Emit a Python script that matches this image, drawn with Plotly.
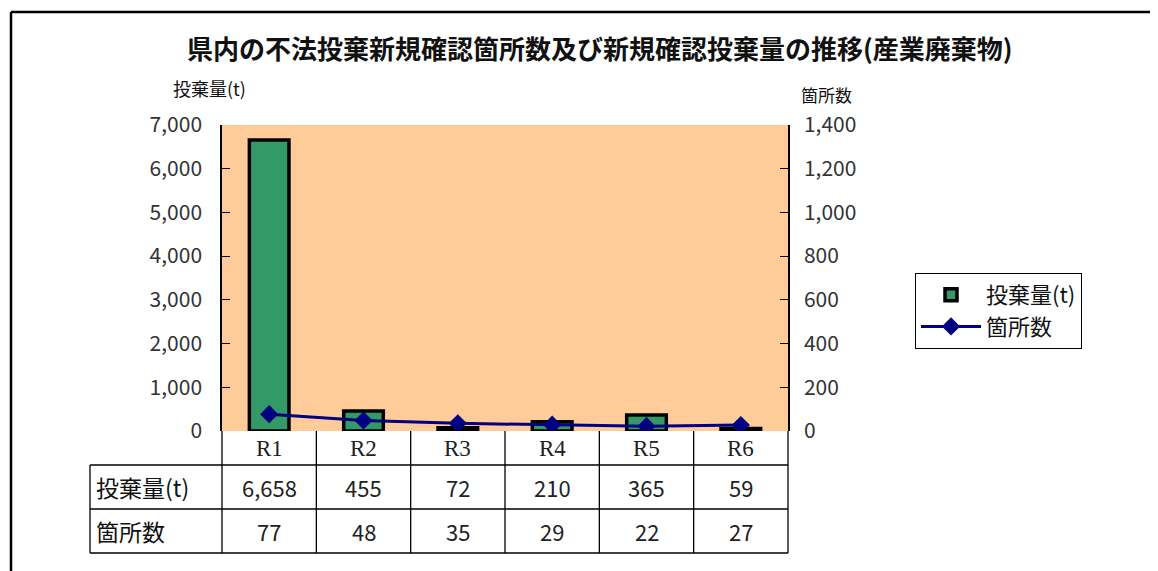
import plotly.graph_objects as go

categories = ["R1", "R2", "R3", "R4", "R5", "R6"]
amount_t = [6658, 455, 72, 210, 365, 59]
sites = [77, 48, 35, 29, 22, 27]
left_ticks = [0, 1000, 2000, 3000, 4000, 5000, 6000, 7000]
right_ticks = [0, 200, 400, 600, 800, 1000, 1200, 1400]

# page has an 8px body margin; compensate so picture coordinates match
OFF = 8
W, H = 1158 - OFF, 571 - OFF
PL, PR, PT, PB = 222, 788, 125, 431
pw, ph = PR - PL, PB - PT

def px(x):
    return (x - PL) / pw

def py(y):
    return (PB - y) / ph

JP = "Noto Sans CJK JP, sans-serif"
SERIF = "Liberation Serif, DejaVu Serif, serif"

fig = go.Figure()
fig.add_trace(go.Bar(
    x=categories, y=amount_t, name="投棄量(t)",
    marker=dict(color="#339966", line=dict(color="#000000", width=3.5)),
    width=0.42, yaxis="y",
))
fig.add_trace(go.Scatter(
    x=categories, y=sites, name="箇所数", yaxis="y2",
    mode="lines+markers",
    line=dict(color="#000080", width=3),
    marker=dict(symbol="diamond", size=14, color="#000080"),
))

shapes = []
def line(x0, y0, x1, y1, w=1.3, c="#000000"):
    shapes.append(dict(type="line", xref="paper", yref="paper",
                       x0=px(x0), y0=py(y0), x1=px(x1), y1=py(y1),
                       line=dict(color=c, width=w)))

# outer chart frame
line(11, 12, 1170, 12, 2.5)
line(11, 12, 11, 580, 2.5)

# data table grid
rows = [465, 509, 553]
for r in rows:
    line(90, r, PR, r)
line(90, 465, 90, 553)
n = len(categories)
for k in range(n + 1):
    xk = PL + pw * k / n
    line(xk, PB, xk, 553)

annotations = []
for i, c in enumerate(categories):
    annotations.append(dict(x=c, y=py(448), xref="x", yref="paper", text=c,
                            xanchor="center", yanchor="middle",
                            showarrow=False, font=dict(family=SERIF, size=23, color="#222")))
    annotations.append(dict(x=c, y=py(487), xref="x", yref="paper", text=f"{amount_t[i]:,}",
                            xanchor="center", yanchor="middle",
                            showarrow=False, font=dict(family=JP, size=22, color="#222")))
    annotations.append(dict(x=c, y=py(531), xref="x", yref="paper", text=f"{sites[i]:,}",
                            xanchor="center", yanchor="middle",
                            showarrow=False, font=dict(family=JP, size=22, color="#222")))
annotations.append(dict(x=px(94), y=py(487), xref="paper", yref="paper", text="投棄量(t)",
                        xanchor="left", yanchor="middle", showarrow=False,
                        font=dict(family=JP, size=23, color="#111")))
annotations.append(dict(x=px(94), y=py(531), xref="paper", yref="paper", text="箇所数",
                        xanchor="left", yanchor="middle", showarrow=False,
                        font=dict(family=JP, size=23, color="#111")))
# axis titles
annotations.append(dict(x=px(209), y=py(88), xref="paper", yref="paper", text="投棄量(t)",
                        xanchor="center", yanchor="middle", showarrow=False,
                        font=dict(family=JP, size=18, color="#111")))
annotations.append(dict(x=px(826), y=py(95), xref="paper", yref="paper", text="箇所数",
                        xanchor="center", yanchor="middle", showarrow=False,
                        font=dict(family=JP, size=17, color="#111")))
# title
annotations.append(dict(x=px(600), y=py(47), xref="paper", yref="paper",
                        text="<b>県内の不法投棄新規確認箇所数及び新規確認投棄量の推移(産業廃棄物)</b>",
                        xanchor="center", yanchor="middle", showarrow=False,
                        font=dict(family=JP, size=26, color="#111")))

fig.update_layout(
    width=W, height=H,
    margin=dict(l=PL - OFF, r=W - (PR - OFF), t=PT - OFF, b=H - (PB - OFF), pad=0),
    paper_bgcolor="#ffffff",
    plot_bgcolor="#FFCC99",
    showlegend=True,
    legend=dict(x=px(915), y=py(273), xanchor="left", yanchor="top",
                bordercolor="#000000", borderwidth=1, bgcolor="#ffffff",
                font=dict(family=JP, size=22, color="#111"),
                tracegroupgap=2, itemwidth=60),
    xaxis=dict(showticklabels=False, showgrid=False, zeroline=False,
               showline=False, ticks="", range=[-0.5, 5.5]),
    yaxis=dict(range=[0, 7000], tickvals=left_ticks, tickformat=",",
               showgrid=False, zeroline=False, showline=True, linecolor="#000000",
               linewidth=1.5, ticks="inside", ticklen=8, tickcolor="#000000",
               ticklabelstandoff=14,
               tickfont=dict(family=JP, size=21, color="#333")),
    yaxis2=dict(range=[0, 1400], tickvals=right_ticks, tickformat=",",
                overlaying="y", side="right",
                showgrid=False, zeroline=False, showline=True, linecolor="#000000",
                linewidth=1.5, ticks="inside", ticklen=8, tickcolor="#000000",
                ticklabelstandoff=10,
                tickfont=dict(family=JP, size=21, color="#333")),
    shapes=shapes,
    annotations=annotations,
)

fig.write_html("out.html")
